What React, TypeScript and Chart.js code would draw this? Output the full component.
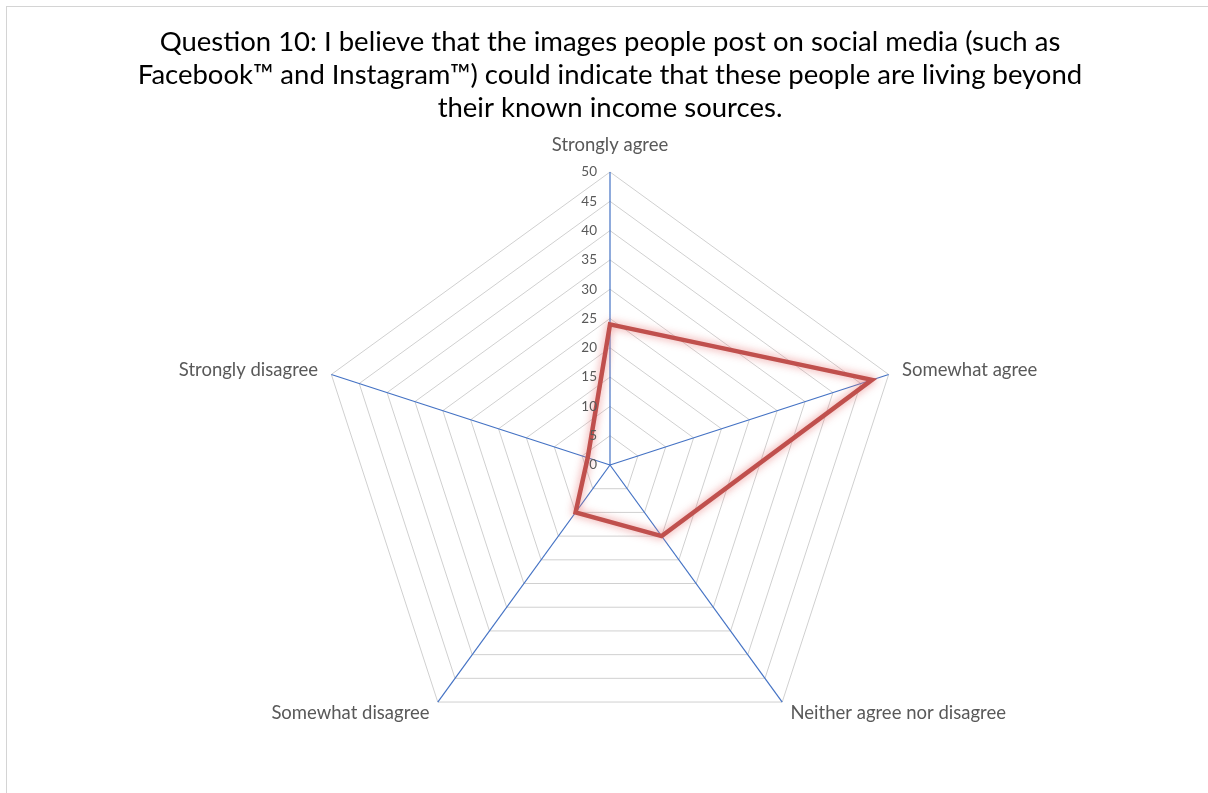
import React, { useEffect, useRef } from "react";
import { Chart, registerables } from "chart.js";

Chart.register(...registerables);

const titleLines = [
  "Question 10: I believe that the images people post on social media (such as",
  "Facebook™ and Instagram™) could indicate that these people are living beyond",
  "their known income sources.",
];

const categories = [
  "Strongly agree",
  "Somewhat agree",
  "Neither agree nor disagree",
  "Somewhat disagree",
  "Strongly disagree",
];

const responses = [24, 47, 15, 10, 4];

const tickValues = [0, 5, 10, 15, 20, 25, 30, 35, 40, 45, 50];

const FONT = "Lato, 'Open Sans', sans-serif";
const TEXT_GRAY = "#595959";

// Soft glow behind the data line
const glowPlugin = {
  id: "lineGlow",
  beforeDatasetsDraw(chart: any) {
    const ctx = chart.ctx;
    ctx.save();
    ctx.shadowColor = "rgba(230, 120, 120, 0.85)";
    ctx.shadowBlur = 8;
  },
  afterDatasetsDraw(chart: any) {
    chart.ctx.restore();
  },
};

// Tick numbers left of the vertical axis and category names outside the web
const labelPlugin = {
  id: "radarLabels",
  afterDraw(chart: any) {
    const scale = chart.scales.r;
    const ctx = chart.ctx;
    ctx.save();

    ctx.fillStyle = TEXT_GRAY;
    ctx.font = `13.5px ${FONT}`;
    ctx.textAlign = "right";
    ctx.textBaseline = "middle";
    tickValues.forEach((v) => {
      const d = scale.getDistanceFromCenterForValue(v);
      ctx.fillText(String(v), scale.xCenter - 13, scale.yCenter - d);
    });

    ctx.font = `18.5px ${FONT}`;
    categories.forEach((label, i) => {
      const top = i === 0;
      const pos = scale.getPointPosition(i, scale.drawingArea + (top ? 18 : 14));
      const dx = pos.x - scale.xCenter;
      if (Math.abs(dx) < 1) {
        ctx.textAlign = "center";
        ctx.textBaseline = "bottom";
      } else {
        ctx.textAlign = dx > 0 ? "left" : "right";
        ctx.textBaseline = "middle";
      }
      ctx.fillText(label, pos.x, pos.y);
    });

    ctx.restore();
  },
};

export default function App() {
  const canvasRef = useRef<HTMLCanvasElement | null>(null);

  useEffect(() => {
    document.body.style.margin = "0";
    const canvas = canvasRef.current;
    if (!canvas) return;

    const chart = new Chart(canvas, {
      type: "radar",
      data: {
        labels: categories,
        datasets: [
          {
            label: "Responses",
            data: responses,
            borderColor: "#c0504d",
            borderWidth: 4.5,
            borderJoinStyle: "miter",
            backgroundColor: "transparent",
            fill: false,
            pointRadius: 0,
            pointHoverRadius: 0,
          },
        ],
      },
      options: {
        animation: false,
        responsive: false,
        maintainAspectRatio: false,
        layout: { padding: { left: 12, right: 0, top: 0, bottom: 35 } },
        plugins: {
          legend: { display: false },
          tooltip: { enabled: false },
          title: {
            display: true,
            text: titleLines,
            color: "#000000",
            font: { family: FONT, size: 27.5, weight: "normal", lineHeight: "33px" },
            padding: { top: 26, bottom: 47 },
          },
        },
        scales: {
          r: {
            min: 0,
            max: 50,
            ticks: { stepSize: 5, display: false },
            grid: { color: "#d0d0d0", lineWidth: 1 },
            angleLines: { color: "#4472c4", lineWidth: 1.2 },
            pointLabels: { display: false },
          },
        },
      },
      plugins: [glowPlugin, labelPlugin],
    });

    return () => chart.destroy();
  }, []);

  return (
    <div style={{ position: "relative", width: 1208, height: 793, background: "#ffffff" }}>
      <div
        style={{
          position: "absolute",
          left: 6,
          top: 6,
          right: 0,
          bottom: 0,
          borderTop: "1px solid #d4d4d4",
          borderLeft: "1px solid #d4d4d4",
        }}
      />
      <canvas
        ref={canvasRef}
        width={1208}
        height={793}
        style={{ position: "absolute", left: 0, top: 0, width: 1208, height: 793 }}
      />
    </div>
  );
}
